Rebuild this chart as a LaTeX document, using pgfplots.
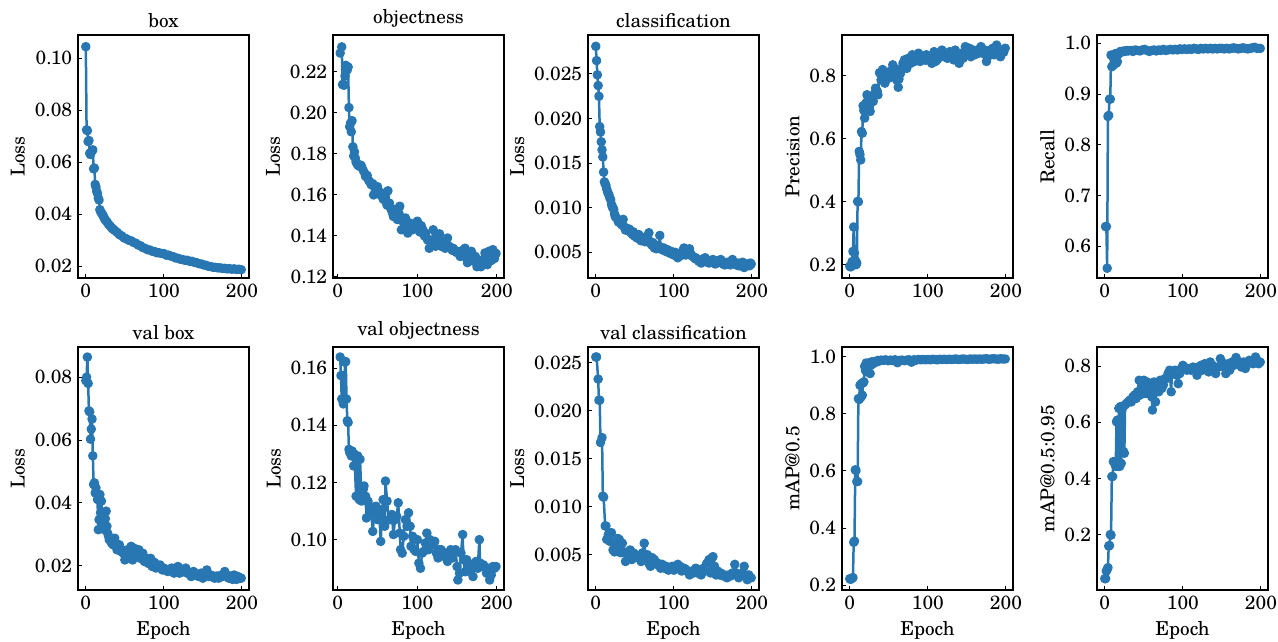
\documentclass[border=0pt]{standalone}
\usepackage{pgfplots}
\pgfplotsset{compat=1.18}
\usepackage{pgfplotstable}
\usepackage{fontspec}
\setmainfont{TeX Gyre Schola}
\definecolor{lc}{RGB}{40,118,178}

\pgfplotsset{
  panel/.style={
    scale only axis, width=102.6pt, height=145.8pt,
    xmin=-10, xmax=209, xtick={0,100,200},
    tick align=inside, xtick pos=bottom, ytick pos=left,
    major tick length=2.6pt,
    every tick/.style={black, line width=0.6pt},
    axis line style={line width=0.7pt},
    scaled y ticks=false,
    xticklabel style={/pgf/number format/assume math mode=true},
    yticklabel style={/pgf/number format/fixed, /pgf/number format/fixed zerofill,
      /pgf/number format/precision=#1, /pgf/number format/assume math mode=true},
    ylabel style={yshift=-1pt},
    title style={yshift=-5pt},
  },
  curve/.style={color=lc, line width=1.5pt, line join=round, mark=*, mark size=2.1pt, mark options={solid}},
}

% box loss
\pgfplotstableread[row sep=\\]{x y\\
0 0.1045\\1 0.0725\\2 0.0722\\3 0.0680\\4 0.0684\\5 0.0635\\6 0.0630\\7 0.0640\\8 0.0645\\9 0.0648\\
10 0.0575\\11 0.0578\\12 0.0515\\13 0.0505\\14 0.0488\\15 0.0480\\16 0.0462\\17 0.0455\\18 0.0418\\19 0.0410\\
20 0.0405\\21 0.0402\\22 0.0395\\23 0.0390\\24 0.0383\\25 0.0378\\27 0.0372\\29 0.0362\\31 0.0356\\33 0.0348\\
35 0.0343\\37 0.0338\\40 0.0331\\43 0.0322\\46 0.0317\\49 0.0309\\52 0.0306\\55 0.0300\\58 0.0298\\61 0.0292\\
64 0.0289\\67 0.0282\\70 0.0279\\73 0.0272\\76 0.0269\\79 0.0264\\82 0.0263\\85 0.0258\\88 0.0257\\91 0.0252\\
94 0.0252\\97 0.0249\\100 0.0249\\103 0.0243\\106 0.0243\\109 0.0239\\112 0.0237\\115 0.0232\\118 0.0231\\121 0.0227\\
124 0.0226\\127 0.0223\\130 0.0223\\133 0.0219\\136 0.0219\\139 0.0215\\142 0.0214\\145 0.0210\\148 0.0209\\151 0.0205\\
154 0.0204\\157 0.0200\\160 0.0199\\163 0.0196\\166 0.0196\\169 0.0194\\172 0.0194\\175 0.0192\\178 0.0192\\181 0.0190\\
184 0.0191\\187 0.0189\\190 0.0190\\193 0.0188\\196 0.0189\\199 0.0187\\
}\tbox

% objectness loss
\pgfplotstableread[row sep=\\]{x y\\
3 0.2292\\5 0.2322\\6 0.2138\\7 0.2140\\8 0.2135\\9 0.2180\\10 0.2232\\11 0.2224\\12 0.2210\\13 0.2224\\
14 0.2026\\15 0.1933\\16 0.1950\\17 0.1908\\18 0.1962\\19 0.1835\\20 0.1790\\21 0.1810\\22 0.1780\\23 0.1760\\
24 0.1755\\25 0.1746\\27 0.1740\\29 0.1745\\30 0.1738\\32 0.1720\\34 0.1705\\35 0.1690\\37 0.1695\\39 0.1670\\
40 0.1665\\42 0.1650\\44 0.1655\\45 0.1600\\47 0.1630\\49 0.1620\\50 0.1640\\52 0.1615\\54 0.1600\\55 0.1610\\
57 0.1580\\59 0.1595\\60 0.1570\\62 0.1550\\63 0.1620\\65 0.1560\\67 0.1530\\69 0.1510\\70 0.1495\\72 0.1530\\
73 0.1520\\75 0.1480\\77 0.1510\\78 0.1545\\80 0.1430\\82 0.1470\\84 0.1450\\85 0.1488\\87 0.1440\\88 0.1414\\
90 0.1464\\92 0.1450\\94 0.1430\\95 0.1448\\97 0.1460\\99 0.1440\\100 0.1472\\102 0.1450\\103 0.1420\\105 0.1450\\
107 0.1430\\109 0.1400\\110 0.1414\\112 0.1390\\113 0.1380\\115 0.1340\\117 0.1370\\118 0.1360\\120 0.1430\\122 0.1380\\
123 0.1350\\125 0.1370\\127 0.1390\\128 0.1410\\130 0.1350\\132 0.1360\\133 0.1370\\135 0.1340\\137 0.1360\\138 0.1390\\
140 0.1350\\142 0.1340\\144 0.1330\\145 0.1340\\147 0.1330\\149 0.1320\\150 0.1325\\152 0.1320\\154 0.1300\\155 0.1310\\
157 0.1330\\159 0.1310\\160 0.1340\\162 0.1290\\163 0.1270\\165 0.1290\\167 0.1300\\168 0.1325\\170 0.1278\\172 0.1290\\
173 0.1300\\175 0.1250\\177 0.1280\\178 0.1270\\180 0.1250\\182 0.1270\\183 0.1285\\185 0.1317\\187 0.1280\\188 0.1260\\
190 0.1325\\192 0.1300\\193 0.1280\\195 0.1333\\197 0.1290\\198 0.1310\\199 0.1315\\
}\tobj

% classification loss
\pgfplotstableread[row sep=\\]{x y\\
0 0.0281\\1 0.0265\\2 0.0249\\3 0.0237\\4 0.0225\\5 0.0191\\6 0.0185\\7 0.0174\\8 0.0165\\9 0.0157\\
10 0.0140\\11 0.0129\\12 0.0127\\13 0.0125\\14 0.0121\\15 0.0118\\16 0.0116\\17 0.0114\\18 0.0111\\19 0.0109\\
20 0.0104\\21 0.0101\\22 0.0100\\23 0.0098\\24 0.0093\\25 0.0090\\26 0.0089\\28 0.0087\\29 0.0084\\30 0.0085\\
32 0.0083\\33 0.0081\\35 0.0087\\36 0.0079\\38 0.0075\\40 0.0077\\42 0.0074\\43 0.0076\\45 0.0072\\47 0.0070\\
48 0.0073\\50 0.0068\\52 0.0069\\53 0.0066\\55 0.0070\\57 0.0066\\58 0.0063\\60 0.0064\\62 0.0066\\63 0.0062\\
65 0.0068\\67 0.0065\\68 0.0072\\70 0.0060\\72 0.0058\\73 0.0061\\75 0.0055\\77 0.0058\\78 0.0054\\80 0.0057\\
82 0.0069\\83 0.0056\\85 0.0053\\87 0.0055\\88 0.0052\\90 0.0051\\92 0.0053\\93 0.0050\\95 0.0049\\97 0.0051\\
98 0.0048\\100 0.0047\\102 0.0050\\103 0.0046\\105 0.0044\\107 0.0048\\108 0.0046\\110 0.0049\\112 0.0053\\113 0.0055\\
115 0.0047\\117 0.0050\\118 0.0052\\120 0.0054\\122 0.0048\\123 0.0046\\125 0.0045\\127 0.0043\\128 0.0044\\130 0.0042\\
132 0.0040\\133 0.0041\\135 0.0038\\137 0.0041\\138 0.0043\\140 0.0044\\142 0.0040\\143 0.0039\\145 0.0038\\147 0.0041\\
148 0.0040\\150 0.0042\\152 0.0039\\153 0.0037\\155 0.0038\\157 0.0041\\158 0.0039\\160 0.0042\\162 0.0038\\163 0.0037\\
165 0.0036\\167 0.0038\\168 0.0039\\170 0.0038\\172 0.0036\\173 0.0040\\175 0.0042\\177 0.0038\\178 0.0037\\180 0.0036\\
182 0.0038\\183 0.0035\\185 0.0035\\187 0.0037\\188 0.0039\\190 0.0033\\192 0.0035\\193 0.0037\\195 0.0036\\197 0.0035\\
198 0.0038\\199 0.0037\\
}\tcls

% precision
\pgfplotstableread[row sep=\\]{x y\\
0 0.195\\1 0.193\\2 0.195\\3 0.210\\4 0.242\\5 0.320\\6 0.237\\7 0.215\\8 0.200\\9 0.205\\
10 0.401\\11 0.400\\12 0.560\\13 0.550\\14 0.533\\15 0.623\\16 0.618\\17 0.705\\18 0.690\\19 0.666\\
20 0.703\\21 0.715\\22 0.740\\23 0.735\\24 0.724\\25 0.700\\26 0.687\\27 0.715\\28 0.735\\29 0.728\\
30 0.719\\32 0.745\\33 0.761\\35 0.752\\36 0.740\\38 0.810\\40 0.787\\42 0.820\\43 0.805\\45 0.777\\
46 0.800\\48 0.808\\50 0.793\\52 0.815\\53 0.803\\55 0.835\\57 0.825\\58 0.814\\60 0.787\\62 0.764\\
63 0.790\\65 0.808\\67 0.825\\68 0.840\\70 0.851\\72 0.840\\73 0.824\\75 0.856\\77 0.850\\78 0.840\\
80 0.867\\82 0.855\\83 0.846\\85 0.856\\87 0.862\\88 0.872\\90 0.846\\92 0.852\\93 0.860\\95 0.856\\
97 0.850\\98 0.867\\100 0.851\\102 0.858\\103 0.861\\105 0.840\\107 0.865\\108 0.877\\110 0.846\\112 0.852\\
113 0.856\\115 0.867\\117 0.872\\118 0.882\\120 0.867\\122 0.860\\123 0.872\\125 0.856\\127 0.865\\128 0.877\\
130 0.867\\132 0.860\\133 0.851\\135 0.882\\137 0.870\\138 0.856\\140 0.840\\142 0.862\\143 0.872\\145 0.856\\
147 0.875\\148 0.893\\150 0.872\\152 0.880\\153 0.888\\155 0.861\\157 0.870\\158 0.882\\160 0.867\\162 0.875\\
163 0.882\\165 0.872\\167 0.880\\168 0.893\\170 0.877\\172 0.870\\173 0.882\\175 0.846\\177 0.862\\178 0.872\\
180 0.882\\182 0.875\\183 0.888\\185 0.867\\187 0.880\\188 0.898\\190 0.877\\192 0.872\\193 0.861\\195 0.882\\
197 0.875\\199 0.888\\
}\tprec

% recall
\pgfplotstableread[row sep=\\]{x y\\
1 0.639\\2 0.639\\3 0.557\\4 0.856\\5 0.858\\6 0.890\\7 0.890\\8 0.977\\9 0.954\\10 0.974\\
11 0.957\\12 0.977\\13 0.964\\14 0.980\\15 0.961\\16 0.964\\17 0.978\\18 0.980\\19 0.982\\20 0.984\\
22 0.983\\24 0.985\\26 0.984\\28 0.986\\30 0.985\\33 0.986\\36 0.984\\39 0.987\\42 0.986\\45 0.985\\
48 0.987\\51 0.988\\54 0.986\\57 0.984\\60 0.986\\63 0.987\\66 0.985\\69 0.987\\72 0.986\\75 0.988\\
78 0.986\\81 0.987\\84 0.988\\87 0.987\\90 0.988\\93 0.987\\96 0.989\\99 0.988\\102 0.989\\105 0.988\\
108 0.989\\111 0.988\\114 0.990\\117 0.989\\120 0.988\\123 0.990\\126 0.989\\129 0.990\\132 0.989\\135 0.990\\
138 0.989\\141 0.990\\144 0.989\\147 0.990\\150 0.990\\153 0.989\\156 0.990\\159 0.989\\162 0.990\\165 0.991\\
168 0.990\\171 0.989\\174 0.990\\177 0.991\\180 0.990\\183 0.989\\186 0.990\\189 0.991\\192 0.992\\195 0.990\\
199 0.990\\
}\trec

% val box loss
\pgfplotstableread[row sep=\\]{x y\\
0 0.0789\\1 0.0800\\2 0.0864\\3 0.0780\\4 0.0693\\5 0.0690\\6 0.0603\\7 0.0635\\8 0.0667\\9 0.0550\\
10 0.0459\\11 0.0464\\12 0.0432\\13 0.0448\\14 0.0430\\15 0.0411\\16 0.0315\\17 0.0347\\18 0.0427\\19 0.0369\\
20 0.0406\\21 0.0326\\22 0.0340\\23 0.0369\\24 0.0315\\25 0.0350\\26 0.0374\\27 0.0326\\28 0.0304\\29 0.0295\\
30 0.0283\\32 0.0280\\33 0.0272\\35 0.0267\\37 0.0288\\38 0.0270\\40 0.0251\\42 0.0260\\43 0.0267\\45 0.0246\\
47 0.0250\\48 0.0240\\50 0.0219\\52 0.0235\\53 0.0251\\55 0.0224\\57 0.0240\\58 0.0262\\60 0.0219\\62 0.0256\\
63 0.0240\\65 0.0230\\67 0.0245\\68 0.0251\\70 0.0224\\72 0.0232\\73 0.0240\\75 0.0214\\77 0.0220\\78 0.0224\\
80 0.0208\\82 0.0215\\83 0.0224\\85 0.0198\\87 0.0205\\88 0.0211\\90 0.0193\\92 0.0198\\93 0.0200\\95 0.0203\\
97 0.0192\\98 0.0187\\100 0.0193\\102 0.0188\\103 0.0185\\105 0.0182\\107 0.0188\\108 0.0185\\110 0.0193\\112 0.0183\\
113 0.0177\\115 0.0187\\117 0.0183\\118 0.0198\\120 0.0177\\122 0.0182\\123 0.0180\\125 0.0182\\127 0.0187\\128 0.0193\\
130 0.0177\\132 0.0175\\133 0.0180\\135 0.0166\\137 0.0175\\138 0.0182\\140 0.0171\\142 0.0174\\143 0.0168\\145 0.0166\\
147 0.0172\\148 0.0177\\150 0.0161\\152 0.0168\\153 0.0170\\155 0.0187\\157 0.0172\\158 0.0166\\160 0.0171\\162 0.0165\\
163 0.0168\\165 0.0161\\167 0.0165\\168 0.0168\\170 0.0161\\172 0.0165\\173 0.0170\\175 0.0166\\177 0.0172\\178 0.0182\\
180 0.0171\\182 0.0165\\183 0.0161\\185 0.0168\\187 0.0163\\188 0.0157\\190 0.0171\\192 0.0162\\193 0.0157\\195 0.0166\\
197 0.0160\\199 0.0161\\
}\tvbox

% val objectness loss
\pgfplotstableread[row sep=\\]{x y\\
3 0.1639\\4 0.1574\\5 0.1492\\6 0.1574\\7 0.1475\\8 0.1492\\9 0.1621\\10 0.1623\\11 0.1492\\12 0.1416\\
13 0.1410\\14 0.1316\\15 0.1305\\17 0.1293\\18 0.1310\\20 0.1258\\21 0.1299\\23 0.1152\\25 0.1293\\27 0.1140\\
28 0.1281\\30 0.1135\\32 0.1176\\33 0.1188\\35 0.1152\\36 0.1076\\38 0.1135\\40 0.1117\\42 0.1094\\44 0.1029\\
46 0.1094\\48 0.1117\\50 0.1070\\52 0.1105\\54 0.0994\\56 0.1105\\57 0.1140\\59 0.1047\\60 0.1205\\62 0.1135\\
64 0.1070\\66 0.1070\\68 0.1088\\70 0.1018\\72 0.1070\\74 0.1082\\76 0.1129\\78 0.1023\\79 0.0965\\81 0.0953\\
83 0.1012\\85 0.1070\\87 0.1047\\89 0.1094\\91 0.1047\\92 0.0977\\94 0.1012\\96 0.0965\\98 0.0959\\100 0.1000\\
102 0.0918\\104 0.0900\\106 0.0953\\108 0.0959\\110 0.0988\\112 0.1023\\114 0.0965\\116 0.1000\\118 0.0994\\120 0.0982\\
122 0.0994\\124 0.0953\\126 0.0936\\128 0.0965\\130 0.0965\\132 0.0953\\134 0.0941\\136 0.0953\\138 0.0924\\140 0.0953\\
142 0.0965\\144 0.0936\\146 0.0953\\148 0.0965\\150 0.0906\\151 0.0859\\153 0.0883\\155 0.0953\\157 0.1018\\158 0.0930\\
160 0.0888\\162 0.0930\\164 0.0918\\166 0.0888\\168 0.0900\\170 0.0871\\172 0.0906\\174 0.0924\\176 0.0900\\178 0.1000\\
179 0.0918\\181 0.0906\\183 0.0912\\185 0.0906\\187 0.0883\\189 0.0894\\191 0.0859\\193 0.0877\\195 0.0906\\197 0.0900\\
199 0.0906\\
}\tvobj

% val classification loss
\pgfplotstableread[row sep=\\]{x y\\
0 0.0256\\1 0.0256\\3 0.0233\\4 0.0211\\5 0.0211\\6 0.0167\\8 0.0172\\9 0.0111\\10 0.0110\\12 0.0080\\
13 0.0080\\14 0.0066\\16 0.0071\\18 0.0064\\20 0.0073\\22 0.0055\\24 0.0053\\26 0.0059\\28 0.0067\\30 0.0066\\
32 0.0052\\34 0.0062\\36 0.0053\\38 0.0043\\40 0.0052\\42 0.0050\\44 0.0055\\46 0.0045\\48 0.0052\\50 0.0047\\
52 0.0050\\55 0.0048\\58 0.0043\\60 0.0052\\62 0.0062\\64 0.0045\\66 0.0050\\68 0.0041\\70 0.0038\\72 0.0047\\
75 0.0045\\78 0.0040\\80 0.0041\\83 0.0036\\85 0.0040\\88 0.0036\\90 0.0038\\93 0.0034\\95 0.0036\\98 0.0038\\
100 0.0034\\103 0.0036\\105 0.0040\\108 0.0038\\110 0.0033\\113 0.0036\\115 0.0035\\118 0.0033\\120 0.0029\\123 0.0033\\
125 0.0031\\128 0.0036\\130 0.0031\\133 0.0034\\135 0.0029\\138 0.0036\\140 0.0033\\142 0.0041\\145 0.0045\\147 0.0031\\
149 0.0047\\150 0.0048\\152 0.0038\\154 0.0029\\156 0.0033\\158 0.0029\\160 0.0031\\163 0.0028\\165 0.0029\\168 0.0026\\
170 0.0029\\173 0.0028\\175 0.0031\\178 0.0040\\180 0.0031\\183 0.0026\\185 0.0028\\188 0.0031\\190 0.0038\\192 0.0029\\
194 0.0024\\196 0.0029\\199 0.0026\\
}\tvcls

% mAP@0.5
\pgfplotstableread[row sep=\\]{x y\\
0 0.222\\1 0.220\\2 0.222\\3 0.224\\4 0.226\\5 0.350\\6 0.354\\7 0.604\\8 0.602\\9 0.563\\
10 0.563\\11 0.854\\12 0.851\\13 0.901\\14 0.858\\15 0.907\\16 0.866\\17 0.909\\18 0.913\\19 0.967\\
20 0.953\\21 0.979\\22 0.948\\23 0.977\\24 0.965\\25 0.979\\26 0.942\\27 0.971\\28 0.983\\29 0.975\\
30 0.979\\32 0.984\\34 0.982\\36 0.988\\38 0.986\\40 0.989\\43 0.988\\46 0.990\\49 0.987\\52 0.989\\
55 0.988\\58 0.990\\61 0.980\\64 0.988\\67 0.989\\70 0.987\\73 0.989\\76 0.990\\79 0.982\\82 0.990\\
85 0.989\\88 0.991\\91 0.990\\94 0.991\\97 0.990\\100 0.991\\103 0.990\\106 0.992\\109 0.991\\112 0.990\\
115 0.992\\118 0.991\\121 0.992\\124 0.991\\127 0.992\\130 0.991\\133 0.992\\136 0.993\\139 0.991\\142 0.992\\
145 0.993\\148 0.992\\151 0.991\\154 0.993\\157 0.992\\160 0.993\\163 0.992\\166 0.993\\169 0.992\\172 0.993\\
175 0.994\\178 0.992\\181 0.993\\184 0.994\\187 0.993\\190 0.992\\193 0.994\\196 0.993\\199 0.993\\
}\tmapa

% mAP@0.5:0.95
\pgfplotstableread[row sep=\\]{x y\\
0 0.043\\1 0.043\\2 0.070\\3 0.076\\4 0.082\\5 0.159\\6 0.161\\7 0.200\\8 0.198\\9 0.407\\
10 0.407\\11 0.460\\12 0.458\\13 0.454\\14 0.443\\15 0.602\\16 0.608\\17 0.443\\18 0.650\\19 0.443\\
20 0.656\\21 0.454\\22 0.650\\23 0.655\\24 0.496\\25 0.490\\26 0.662\\28 0.668\\30 0.673\\32 0.679\\
34 0.673\\36 0.691\\38 0.697\\40 0.685\\42 0.709\\44 0.750\\45 0.697\\47 0.744\\48 0.709\\50 0.750\\
52 0.703\\54 0.744\\56 0.715\\58 0.733\\60 0.691\\61 0.644\\63 0.744\\65 0.673\\67 0.733\\69 0.709\\
71 0.750\\73 0.721\\75 0.733\\77 0.756\\79 0.756\\81 0.774\\83 0.786\\85 0.709\\86 0.780\\88 0.774\\
90 0.786\\92 0.768\\94 0.738\\96 0.774\\98 0.792\\100 0.803\\102 0.797\\105 0.786\\108 0.792\\110 0.786\\
113 0.797\\115 0.786\\118 0.768\\120 0.797\\123 0.803\\125 0.786\\128 0.809\\130 0.797\\133 0.780\\135 0.815\\
138 0.803\\140 0.786\\142 0.774\\145 0.797\\148 0.827\\150 0.815\\153 0.797\\155 0.774\\158 0.809\\160 0.786\\
163 0.815\\165 0.803\\168 0.831\\170 0.809\\173 0.815\\175 0.797\\178 0.815\\180 0.792\\183 0.809\\185 0.821\\
188 0.815\\190 0.809\\193 0.833\\195 0.821\\197 0.809\\199 0.815\\
}\tmapb

\begin{document}
\begin{tikzpicture}[font=\fontsize{11.5}{13.5}\selectfont]
\path[use as bounding box] (0,0) rectangle (766.8pt,385.2pt);

% top row
\begin{axis}[panel=2, at={(46.8pt,218.4pt)}, anchor=south west,
  title={box}, ylabel={Loss}, ymin=0.0155, ymax=0.109,
  ytick={0.02,0.04,0.06,0.08,0.10}]
\addplot[curve] table[x=x,y=y] {\tbox};
\end{axis}

\begin{axis}[panel=2, at={(199.8pt,218.4pt)}, anchor=south west,
  title={objectness}, ylabel={Loss}, xmin=-6, ymin=0.1195, ymax=0.238,
  ytick={0.12,0.14,0.16,0.18,0.20,0.22}]
\addplot[curve] table[x=x,y=y] {\tobj};
\end{axis}

\begin{axis}[panel=3, at={(352.8pt,218.4pt)}, anchor=south west,
  title={classification}, ylabel={Loss}, ymin=0.00213, ymax=0.02937,
  ytick={0.005,0.010,0.015,0.020,0.025}]
\addplot[curve] table[x=x,y=y] {\tcls};
\end{axis}

\begin{axis}[panel=1, at={(505.2pt,218.4pt)}, anchor=south west,
  ylabel={Precision}, ymin=0.1577, ymax=0.930,
  ytick={0.2,0.4,0.6,0.8}]
\addplot[curve] table[x=x,y=y] {\tprec};
\end{axis}

\begin{axis}[panel=1, at={(658.2pt,218.4pt)}, anchor=south west,
  ylabel={Recall}, ymin=0.5377, ymax=1.0164,
  ytick={0.6,0.7,0.8,0.9,1.0}]
\addplot[curve] table[x=x,y=y] {\trec};
\end{axis}

% bottom row
\begin{axis}[panel=2, at={(46.8pt,31.2pt)}, anchor=south west,
  title={val box}, ylabel={Loss}, xlabel={Epoch}, ymin=0.01233, ymax=0.0896,
  ytick={0.02,0.04,0.06,0.08}]
\addplot[curve] table[x=x,y=y] {\tvbox};
\end{axis}

\begin{axis}[panel=2, at={(199.8pt,31.2pt)}, anchor=south west,
  title={val objectness}, ylabel={Loss}, xlabel={Epoch}, xmin=-6, ymin=0.0824, ymax=0.1674,
  ytick={0.10,0.12,0.14,0.16}]
\addplot[curve] table[x=x,y=y] {\tvobj};
\end{axis}

\begin{axis}[panel=3, at={(352.8pt,31.2pt)}, anchor=south west,
  title={val classification}, ylabel={Loss}, xlabel={Epoch}, ymin=0.00133, ymax=0.02664,
  ytick={0.005,0.010,0.015,0.020,0.025}]
\addplot[curve] table[x=x,y=y] {\tvcls};
\end{axis}

\begin{axis}[panel=1, at={(505.2pt,31.2pt)}, anchor=south west,
  ylabel={mAP@0.5}, xlabel={Epoch}, ymin=0.1825, ymax=1.035,
  ytick={0.2,0.4,0.6,0.8,1.0}]
\addplot[curve] table[x=x,y=y] {\tmapa};
\end{axis}

\begin{axis}[panel=1, at={(658.2pt,31.2pt)}, anchor=south west,
  ylabel={mAP@0.5:0.95}, xlabel={Epoch}, ymin=0.0024, ymax=0.8686,
  ytick={0.2,0.4,0.6,0.8}]
\addplot[curve] table[x=x,y=y] {\tmapb};
\end{axis}
\end{tikzpicture}
\end{document}
